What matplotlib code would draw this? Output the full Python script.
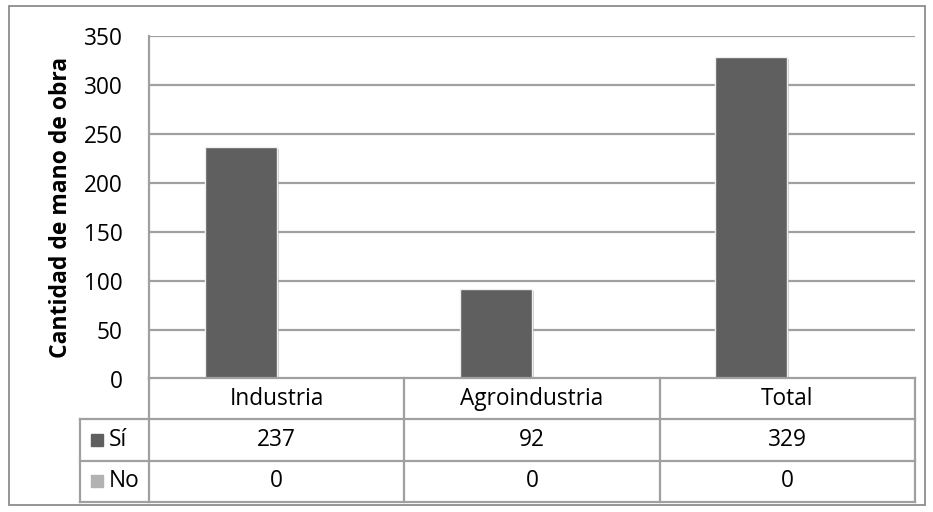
import matplotlib
matplotlib.use("Agg")
import matplotlib.pyplot as plt
import matplotlib.patheffects as pe
from matplotlib.patches import Rectangle
import numpy as np

plt.rcParams['font.family'] = ['Open Sans', 'DejaVu Sans']

categories = ["Industria", "Agroindustria", "Total"]
si_values = [237, 92, 329]
no_values = [0, 0, 0]
series_names = ["Sí", "No"]
series_colors = ["#5f5f5f", "#b2b2b2"]
yticks = [0, 50, 100, 150, 200, 250, 300, 350]

W, H = 933, 512
fig = plt.figure(figsize=(W / 100, H / 100), dpi=100)

def fx(px):
    return px / W

def fy(py):
    return 1 - py / H

grid_c = "#a0a0a0"
fs = 16.3

# outer chart border
fig.patches.append(Rectangle((fx(9), fy(505)), fx(925) - fx(9), fy(6) - fy(505),
                             transform=fig.transFigure, fill=False,
                             edgecolor="#8c8c8c", linewidth=1.3))

ax = fig.add_axes([fx(149), fy(379), fx(915) - fx(149), fy(36) - fy(379)])
x = np.arange(len(categories))
bw = 0.282
shadow = [pe.SimplePatchShadow(offset=(1.5, -1.5), shadow_rgbFace="#999999", alpha=0.5), pe.Normal()]
ax.bar(x - bw / 2, si_values, bw, color=series_colors[0], edgecolor="#f0f0f0",
       linewidth=1.0, zorder=3, path_effects=shadow)
ax.bar(x + bw / 2, no_values, bw, color=series_colors[1], edgecolor="#f0f0f0",
       linewidth=1.0, zorder=3)

ax.set_xlim(-0.5, len(categories) - 0.5)
ax.set_ylim(0, 350)
ax.set_yticks(yticks)
ax.set_xticks([])
ax.yaxis.grid(True, color=grid_c, linewidth=1.6)
ax.set_axisbelow(True)
for s in ["top", "right", "bottom"]:
    ax.spines[s].set_visible(False)
ax.spines["left"].set_color(grid_c)
ax.spines["left"].set_linewidth(1.6)
ax.tick_params(axis="y", length=0, pad=19, labelsize=fs, colors="black")
ax.set_ylabel("Cantidad de mano de obra", fontsize=16.5, fontweight="bold", labelpad=8)

# data table below the plot
tab = fig.add_axes([fx(149), fy(502), fx(915) - fx(149), fy(378) - fy(502)])
tab.set_xlim(-0.5, len(categories) - 0.5)
tab.set_ylim(0, 3)
tab.axis("off")
unit = (915 - 149) / 3
left_x = -0.5 - (149 - 80) / unit
lk = dict(color=grid_c, linewidth=1.6, clip_on=False)
tab.plot([-0.5, 2.5], [3, 3], **lk)
for yy in [0, 1, 2]:
    tab.plot([left_x, 2.5], [yy, yy], **lk)
tab.plot([left_x, left_x], [0, 2], **lk)
for xx in [-0.5, 0.5, 1.5, 2.5]:
    tab.plot([xx, xx], [0, 3], **lk)

for i, c in enumerate(categories):
    tab.text(i, 2.5, c, ha="center", va="center", fontsize=fs)
    tab.text(i, 1.5, str(si_values[i]), ha="center", va="center", fontsize=fs)
    tab.text(i, 0.5, str(no_values[i]), ha="center", va="center", fontsize=fs)

for k, (name, col) in enumerate(zip(series_names, series_colors)):
    yc = 1.5 - k
    tab.plot([left_x + (97 - 80) / unit], [yc], marker="s", markersize=9, color=col,
             linestyle="none", clip_on=False)
    tab.text(left_x + (109 - 80) / unit, yc, name, ha="left", va="center", fontsize=fs)

fig.savefig("out.png", dpi=100)
